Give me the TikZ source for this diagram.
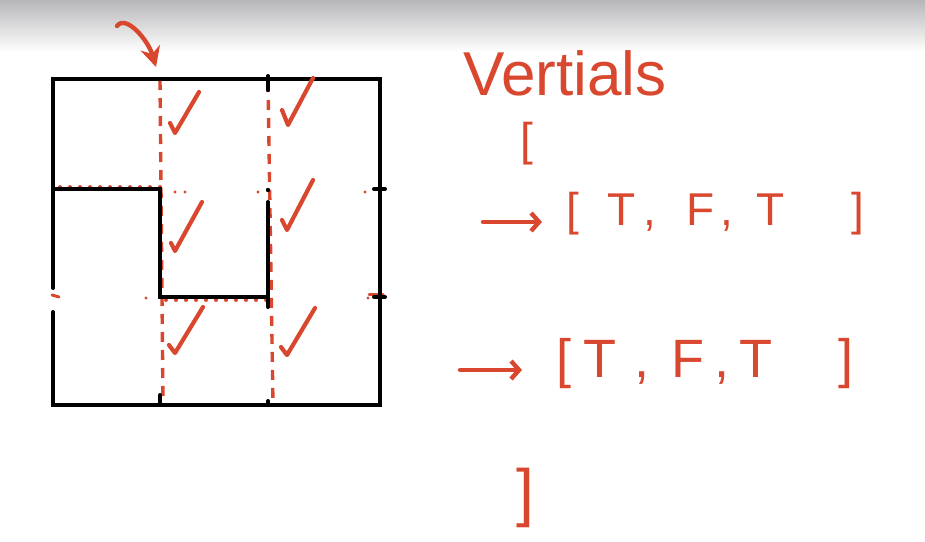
\documentclass[tikz,border=0pt]{standalone}
\usepackage{fontspec}
\setmainfont{Liberation Sans}
\usetikzlibrary{arrows.meta, positioning, calc}
\definecolor{inkred}{HTML}{D9482E}
\definecolor{bartop}{HTML}{B7B7BA}

\begin{document}
\begin{tikzpicture}[x=0.5pt, y=-0.5pt,
    wall/.style={line width=2pt, line cap=round, black},
    scan/.style={inkred, line width=1.7pt, dash pattern=on 5pt off 4pt},
    dotline/.style={inkred, line width=2pt, line cap=round, dash pattern=on 0pt off 5pt},
    checkmark/.style={inkred, line width=2.1pt, line cap=round, line join=round},
    hand/.style={inkred, inner sep=0pt, anchor=base west},
    pointer/.style={inkred, line width=2.2pt, line cap=round, -{Straight Barb[length=4pt, width=9pt]}}]
    \useasboundingbox (0,0) rectangle (925,541);
    \shade[top color=bartop, bottom color=white] (0,0) rectangle (925,52);

    % red scan lines
    \draw[scan] (160,80) -- (163,405);
    \draw[scan] (268,82) -- (273,405);
    \draw[dotline] (60,187) -- (160,187);
    \draw[dotline] (166,300) -- (268,300);
    \draw[inkred, line width=1.5pt, line cap=round] (52,295) -- (59,297);
    \draw[inkred, line width=1.5pt, line cap=round] (369,294) -- (383,294);
    \foreach \x/\y in {175/192, 185/192, 258/192, 365/192, 146/298, 368/298}
        \fill[inkred] (\x,\y) circle (1.6);

    % maze walls
    \draw[wall] (53,288) -- (53,79) -- (380,79) -- (380,405) -- (53,405) -- (53,312);
    \draw[wall] (53,189) -- (160,189) -- (160,297) -- (268,297);
    \draw[wall] (268,202) -- (268,307);
    \draw[wall] (268,76) -- (268,90);
    \draw[wall] (160,395) -- (160,405);
    \draw[wall] (268,401) -- (268,405);
    \draw[wall] (374,189) -- (385,189);
    \draw[wall] (374,297) -- (385,297);
    \fill (268,190) circle (2.2);
    \fill (160,79) circle (2.2);

    % checks
    \foreach \ax/\ay/\bx/\by/\cx/\cy in {170/123/175/133/199/92, 282/110/288/125/313/78,
        171/243/175/251/202/202, 282/220/287/230/313/180,
        169/345/175/353/203/307, 281/347/287/355/315/308}
        \draw[checkmark] (\ax,\ay) -- (\bx,\by) -- (\cx,\cy);

    % pointer at first column
    \coordinate (hook) at (117,26);
    \coordinate (aim) at (156,67);
    \draw[inkred, line width=2.2pt, line cap=round, -{Stealth[length=10pt, width=10pt]}]
        (hook) .. controls (126,14) and (148,40) .. (aim);

    % notes
    \node[hand, font=\fontsize{31}{31}\selectfont] (title) at (463,95) {Vertials};
    \node[hand, font=\fontsize{23}{23}\selectfont] (open) at (520,155) {[};
    \node[hand, font=\fontsize{23}{23}\selectfont] (row1) at (566,225)
        {[\hspace{14pt}T\hspace{4pt},\hspace{15pt}F\hspace{3pt},\hspace{12pt}T\hspace{33pt}]};
    \node[hand, font=\fontsize{27}{27}\selectfont] (row2) at (556,377)
        {[\hspace{6pt}T\hspace{9pt},\hspace{11pt}F\hspace{5pt},\hspace{5pt}T\hspace{33pt}]};
    \node[hand, font=\fontsize{32}{32}\selectfont] (close) at (516,514) {]};

    \coordinate (from1) at (483,222);
    \coordinate (from2) at (460,370);
    \draw[pointer, shorten >=12pt] (from1) -- (from1 -| row1.west);
    \draw[pointer, shorten >=17pt] (from2) -- (from2 -| row2.west);
\end{tikzpicture}
\end{document}
